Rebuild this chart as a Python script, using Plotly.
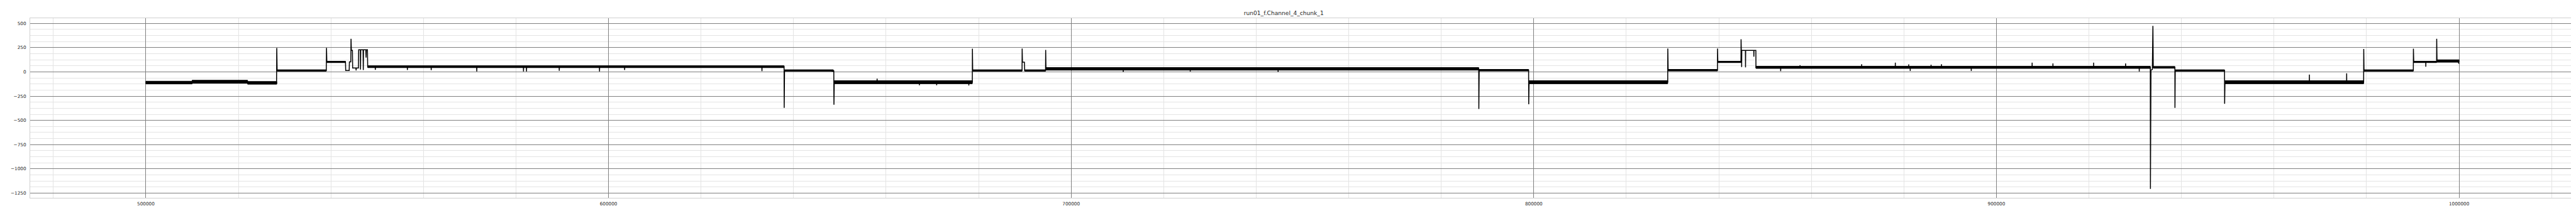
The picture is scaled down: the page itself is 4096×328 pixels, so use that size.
import plotly.graph_objects as go

# ---- data ----
trace_x = [
    500000, 505000, 512000, 517000, 522000, 528250,
    528300, 528380, 539000,
    539050, 539120, 543150,
    543200, 543950, 544000, 544300,
    544350, 544420, 544650, 544700, 545400, 545450, 545500, 545950,
    546000, 546350, 546400, 546450, 546950, 547000, 547050, 547550, 547600, 547650, 547900,
    547950,
    549565, 549600, 549640, 556500, 556530, 556560, 561650, 561680, 561710, 571500, 571530, 571560,
    581600, 581630, 581660, 582250, 582280, 582310, 589330, 589360, 589390, 598030, 598060, 598090,
    603460, 603490, 603520, 633140, 633170, 633200, 637950,
    637978, 638050, 648000, 648600, 648700,
    648730, 648800, 658030, 658060, 658090, 667180, 667200, 667220, 670920, 670935, 670950,
    677870, 677887, 677900, 678640,
    678660, 678720, 689390,
    689411, 689480, 689900, 689950, 694470,
    694495, 694560,
    711250, 711265, 711280, 725730, 725748, 725760, 744720, 744737, 744750, 788100,
    788123, 788200, 798880,
    798906, 798980, 828950,
    828967, 829040, 839700,
    839716, 839780, 844780,
    844802, 844860, 844900, 844931, 844960, 845740, 845768, 845800, 847550, 847570, 847600, 848000,
    848020,
    853350, 853364, 853380, 857530, 857547, 857560, 870860, 870871, 870885, 878130, 878145, 878160,
    881030, 881042, 881055, 881350, 881365, 881380, 885860, 885869, 885880, 888110, 888122, 888135,
    894550, 894562, 894575, 907700, 907718, 907735, 912200, 912214, 912230, 921000, 921005, 921020,
    927900, 927918, 927935, 930860, 930871, 930885, 933260,
    933287, 933400, 933700,
    933823, 933900, 938570,
    938588, 938650, 949300,
    949326, 949400, 967630, 967647, 967660, 975690, 975700, 975715, 979370,
    979391, 979450, 990110,
    990128, 990200, 992800, 992813, 992830, 995140,
    995162, 995230, 999700, 1000000,
]
trace_y = [
    -112, -110, -103, -98, -106, -114,
    247, 15, 15,
    247, 103, 103,
    15, 15, 103, 103,
    342, 222, 222, 40, 40, 15, 40, 40,
    228, 228, 25, 228, 228, 20, 228, 228, 148, 228, 228,
    54,
    54, 21, 54, 54, 20, 54, 54, 18, 54, 54, 5, 54,
    54, 5, 54, 54, 5, 54, 54, 12, 54, 54, 5, 54,
    54, 20, 54, 54, 8, 54, 54,
    -371, 15, 15, 5, 15,
    -338, -105, -105, -69, -105, -105, -137, -105, -105, -137, -105,
    -105, -140, -105, -105,
    239, 15, 15,
    242, 100, 100, 15, 15,
    227, 31,
    31, 0, 31, 31, 5, 31, 31, 0, 31, 31,
    -382, 18, 18,
    -333, -105, -105,
    242, 18, 18,
    242, 103, 103,
    337, 222, 222, 50, 222, 222, 47, 222, 222, 157, 222, 222,
    46,
    46, 8, 46, 46, 70, 46, 46, 80, 46, 46, 95, 46,
    46, 78, 46, 46, 10, 46, 46, 75, 46, 46, 80, 46,
    46, 10, 46, 46, 95, 46, 46, 88, 46, 46, 95, 46,
    46, 88, 46, 46, 5, 46, 46,
    -1207, 20, 25,
    475, 46, 46,
    -371, 15, 15,
    -328, -105, -105, -28, -105, -105, -15, -105, -105,
    237, 15, 15,
    240, 103, 103, 54, 103, 103,
    342, 113, 113, 85,
]

# noise band of each flat stretch: start, end, lower and upper edge
band_x0 = [500000, 510000, 522000, 528380, 539120, 547950, 638050, 648800, 678720, 689950,
           694560, 788200, 798980, 829040, 839780, 848020, 933900, 938650, 949400, 979450,
           990200, 995230]
band_x1 = [510000, 522000, 528300, 539000, 543150, 637950, 648600, 678640, 689390, 694470,
           788100, 798880, 828950, 839700, 844780, 933260, 938570, 949300, 979370, 990110,
           995140, 1000000]
band_lo = [-124, -117, -127, 8, 96, 44, 8, -122, 8, 8,
           18, 10, -122, 10, 96, 36, 38, 8, -122, 8,
           96, 100]
band_hi = [-96, -86, -99, 22, 110, 64, 22, -90, 22, 22,
           45, 26, -90, 26, 110, 58, 56, 22, -90, 22,
           110, 125]

x_ticks = [500000, 600000, 700000, 800000, 900000, 1000000]
y_ticks = [500, 250, 0, -250, -500, -750, -1000, -1250]
title_text = "run01_f.Channel_4_chunk_1"

# ---- build the figure ----
S = 0.758
band_px, band_py = [], []
for x0, x1, lo, hi in zip(band_x0, band_x1, band_lo, band_hi):
    band_px += [x0, x1, x1, x0, x0, None]
    band_py += [lo, lo, hi, hi, lo, None]

fig = go.Figure()
fig.add_trace(go.Scatter(x=band_px, y=band_py, mode="lines", fill="toself",
                         fillcolor="black", line=dict(color="black", width=1.0),
                         hoverinfo="skip", showlegend=False))
fig.add_trace(go.Scatter(x=trace_x, y=trace_y, mode="lines",
                         line=dict(color="black", width=2.0 * S),
                         showlegend=False))

font_fam = "DejaVu Sans, Arial, sans-serif"
axis_common = dict(
    showgrid=True, gridcolor="#808080", gridwidth=1.0 * S, automargin=False,
    zeroline=False, showline=True, linecolor="#d0d0d0", linewidth=1.3 * S, mirror=True,
    ticks="", tickfont=dict(family=font_fam, size=9.6 * S, color="#262626"),
)
fig.update_xaxes(range=[475000, 1025000], tickvals=x_ticks,
                 ticktext=[str(v) for v in x_ticks], ticklabelstandoff=2,
                 minor=dict(dtick=20000, tick0=0, showgrid=True, gridcolor="#e4e4e4",
                            gridwidth=1.0 * S),
                 **axis_common)
fig.update_yaxes(range=[-1299, 554], tickvals=y_ticks, ticklabelstandoff=4,
                 ticktext=[("\u2212" + str(-v)) if v < 0 else str(v) for v in y_ticks],
                 minor=dict(dtick=62.5, tick0=0, showgrid=True, gridcolor="#e4e4e4",
                            gridwidth=1.0 * S),
                 **axis_common)
fig.update_layout(
    template="none",
    width=4096, height=328,
    margin=dict(l=40, r=10, t=21, b=21, pad=0, autoexpand=False),
    paper_bgcolor="white", plot_bgcolor="white",
    title=dict(text=title_text, x=0.4964, xanchor="center", xref="container",
               y=1 - 13.2 / 328, yanchor="middle", yref="container",
               font=dict(family=font_fam, size=12 * S, color="#262626")),
    showlegend=False,
)
fig.write_html("out.html")
